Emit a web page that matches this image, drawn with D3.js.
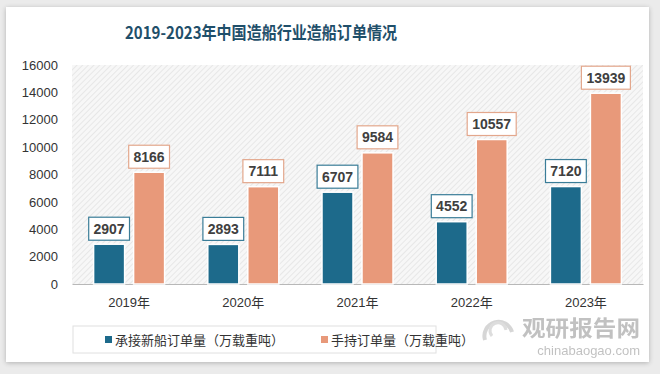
<!DOCTYPE html>
<html><head><meta charset="utf-8">
<script src="https://cdn.jsdelivr.net/npm/d3@7"></script>
<style>
html,body{margin:0;padding:0;background:#ebebeb;}
svg{display:block;}
</style></head>
<body>
<svg id="chart" width="660" height="374"></svg>
<script>
const title = "2019-2023年中国造船行业造船订单情况";
const categories = ["2019年","2020年","2021年","2022年","2023年"];
const seriesNames = ["承接新船订单量（万载重吨）","手持订单量（万载重吨）"];
const newOrders = [2907, 2893, 6707, 4552, 7120];
const heldOrders = [8166, 7111, 9584, 10557, 13939];
const yTicks = [0,2000,4000,6000,8000,10000,12000,14000,16000];
const colors = ["#1d6a8b", "#e8997a"];
const borderColors = ["#3a7d98", "#e3a78c"];

const svg = d3.select("#chart");
const font = "'Liberation Sans','Noto Sans CJK SC',sans-serif";
const cjk = "'Noto Sans CJK SC',sans-serif";

const defs = svg.append("defs");
const f = defs.append("filter").attr("id","sh").attr("x","-5%").attr("y","-5%").attr("width","110%").attr("height","110%");
f.append("feGaussianBlur").attr("in","SourceAlpha").attr("stdDeviation",2.5);
f.append("feOffset").attr("dx",0).attr("dy",1).attr("result","b");
f.append("feComponentTransfer").append("feFuncA").attr("type","linear").attr("slope",0.25);
const fm = f.append("feMerge"); fm.append("feMergeNode"); fm.append("feMergeNode").attr("in","SourceGraphic");
svg.append("rect").attr("x",6).attr("y",7).attr("width",643).attr("height",355).attr("fill","#fff").attr("filter","url(#sh)");

const pat = defs.append("pattern").attr("id","hatch").attr("patternUnits","userSpaceOnUse")
  .attr("width",4).attr("height",4).attr("patternTransform","rotate(45)");
pat.append("rect").attr("width",4).attr("height",4).attr("fill","#f7f7f7");
pat.append("line").attr("x1",0).attr("y1",0).attr("x2",0).attr("y2",4).attr("stroke","#dcdcdc").attr("stroke-width",1.2);

const m = {left:72, right:643, top:65, bottom:284};
const x = d3.scaleBand().domain(categories).range([m.left, m.right]).paddingInner(0).paddingOuter(0);
const y = d3.scaleLinear().domain([0,16000]).range([m.bottom, m.top]);

svg.append("rect").attr("x",m.left).attr("y",m.top).attr("width",m.right-m.left).attr("height",m.bottom-m.top).attr("fill","url(#hatch)");

svg.append("text").attr("x",261).attr("y",39).attr("text-anchor","middle")
  .attr("font-family",cjk).attr("font-weight","bold").attr("font-size",17)
  .attr("fill","#1f4f6a").attr("textLength",272).attr("lengthAdjust","spacingAndGlyphs").text(title);

const yAxis = d3.axisLeft(y).tickValues(yTicks).tickSize(0).tickPadding(0).tickFormat(d3.format("d"));
const ya = svg.append("g").attr("transform",`translate(58,0)`).call(yAxis);
ya.select(".domain").remove();
ya.selectAll("text").attr("font-family",font).attr("font-size",13).attr("fill","#333");

const xAxis = d3.axisBottom(x).tickSize(0).tickPadding(0);
const xa = svg.append("g").attr("transform",`translate(0,${m.bottom})`).call(xAxis);
xa.select(".domain").attr("stroke","#b8b8b8").attr("stroke-width",1.2);
xa.selectAll("text").attr("font-family",font).attr("font-size",13).attr("fill","#333").attr("dy","1.75em");

const barW = 31, gap = 9;
const series = [newOrders, heldOrders];
series.forEach((vals, si) => {
  const off = si === 0 ? -(gap/2 + barW) : gap/2;
  const g = svg.append("g");
  g.selectAll("rect").data(vals).join("rect")
    .attr("x",(d,i)=> x(categories[i]) + x.bandwidth()/2 + off)
    .attr("y",d=>y(d)).attr("width",barW).attr("height",d=>y(0)-y(d))
    .attr("fill",colors[si]).attr("stroke","#fff").attr("stroke-width",1.5);
  const lg = svg.append("g");
  vals.forEach((d,i)=>{
    const cx = x(categories[i]) + x.bandwidth()/2 + off + barW/2;
    const txt = String(d);
    const w = txt.length*8.2 + 8, h = 23;
    const by = y(d) - 4 - h;
    lg.append("rect").attr("x",cx-w/2).attr("y",by).attr("width",w).attr("height",h)
      .attr("fill","#fff").attr("stroke",borderColors[si]).attr("stroke-width",1.2);
    lg.append("text").attr("x",cx).attr("y",by+h/2+5).attr("text-anchor","middle")
      .attr("font-family",font).attr("font-weight","bold").attr("font-size",14).attr("fill","#404040").text(txt);
  });
});

// legend
svg.append("rect").attr("x",73).attr("y",326).attr("width",363).attr("height",27).attr("fill","#fff").attr("stroke","#e0e0e0");
const lx = [105, 321];
seriesNames.forEach((n,i)=>{
  svg.append("rect").attr("x",lx[i]).attr("y",336).attr("width",7).attr("height",7).attr("fill",colors[i]);
  svg.append("text").attr("x",lx[i]+10).attr("y",344.5).attr("font-family",cjk).attr("font-size",13).attr("fill","#333").text(n);
});

// watermark
const wm = svg.append("g").attr("opacity",0.6);
wm.append("path").attr("d","M485,340 A14,14 0 1,1 512,332").attr("fill","none").attr("stroke","#bbb").attr("stroke-width",4);
wm.append("path").attr("d","M492,336 A8,8 0 1,1 506,330").attr("fill","none").attr("stroke","#c8c8c8").attr("stroke-width",3);
wm.append("text").attr("x",522).attr("y",336).attr("font-family",cjk).attr("font-weight","bold").attr("font-size",22)
  .attr("fill","#999").attr("textLength",118).attr("lengthAdjust","spacingAndGlyphs").text("观研报告网");
wm.append("text").attr("x",640).attr("y",355).attr("text-anchor","end").attr("font-family",font).attr("font-size",13)
  .attr("fill","#999").text("chinabaogao.com");
</script>
</body></html>
